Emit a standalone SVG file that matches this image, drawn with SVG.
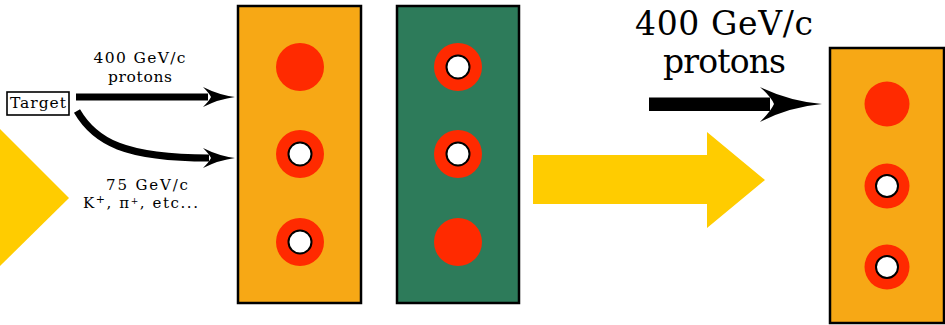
<svg xmlns="http://www.w3.org/2000/svg" width="945" height="325" viewBox="0 0 945 325">
<style>
text{font-family:"DejaVu Serif","Liberation Serif",serif;fill:#000}
.panel{stroke:#000;stroke-width:2.5}
.orange{fill:#F7A815}
.green{fill:#2D7B5A}
.red{fill:#FF2A00}
.hole{fill:#fff;stroke:#000;stroke-width:2}
.yellow{fill:#FFCC00}
</style>
<defs>
<g id="ring"><circle r="24" class="red"/><circle r="11.5" class="hole"/></g>
<g id="dot"><circle r="24" class="red"/></g>
<g id="ringS"><circle r="22.5" class="red"/><circle r="11" class="hole"/></g>
<g id="dotS"><circle r="22.5" class="red"/></g>
</defs>
<rect width="945" height="325" fill="#fff"/>

<g id="left-triangle"><polygon class="yellow" points="-2,127 69,198 -2,268"/></g>

<g id="target">
<rect x="7" y="92" width="62" height="23" fill="#fff" stroke="#000" stroke-width="1.6"/>
<text x="38" y="108" font-size="15.5" text-anchor="middle" textLength="56">Target</text>
</g>

<g id="labels-left">
<text x="139.5" y="63" font-size="15.5" text-anchor="middle" textLength="92">400 GeV/c</text>
<text x="140" y="82" font-size="15.5" text-anchor="middle" textLength="64">protons</text>
<text x="147" y="190" font-size="15" text-anchor="middle" textLength="82">75 GeV/c</text>
<text x="83" y="208" font-size="15" textLength="115">K<tspan font-size="11" dy="-5">+</tspan><tspan dy="5">, π</tspan><tspan font-size="9" dy="-4">+</tspan><tspan dy="4">, etc...</tspan></text>
</g>

<g id="connectors">
<path d="M76,93.5 L208,93.5 L208,100.5 L76,100.5 Z" fill="#000"/>
<path d="M203,87 Q 219,95 235,97 Q 219,99 203,107 Q 209,101 211,97 Q 209,93 203,87 Z" fill="#000"/>
<path d="M77,111 C 95,142 125,158 209,158" fill="none" stroke="#000" stroke-width="7"/>
<path d="M203,148 Q 219,156 235,158 Q 219,160 203,168 Q 209,162 211,158 Q 209,154 203,148 Z" fill="#000"/>
</g>

<g id="panel1">
<rect x="238" y="6" width="123" height="297" class="panel orange"/>
<use href="#dot" x="300" y="67"/>
<use href="#ring" x="300" y="154"/>
<use href="#ring" x="300" y="242"/>
</g>

<g id="panel2">
<rect x="397" y="6" width="122" height="297" class="panel green"/>
<use href="#ring" x="458" y="67"/>
<use href="#ring" x="458" y="154"/>
<use href="#dot" x="458" y="242"/>
</g>

<g id="big-arrow"><polygon class="yellow" points="533,155 707,155 707,132 765,180 707,228 707,204 533,204"/></g>

<g id="labels-right">
<text x="724" y="35" font-size="33" text-anchor="middle" textLength="178">400 GeV/c</text>
<text x="724.5" y="73" font-size="33" text-anchor="middle" textLength="123">protons</text>
</g>

<g id="black-arrow">
<path d="M649,97.5 L770,97.5 L770,111 L649,111 Z" fill="#000"/>
<path d="M760,87 Q 789,101 822,104 Q 789,107 760,122 Q 771,111 774,104 Q 771,97 760,87 Z" fill="#000"/>
</g>

<g id="panel3">
<rect x="830" y="48" width="114" height="275" class="panel orange"/>
<use href="#dotS" x="887" y="104"/>
<use href="#ringS" x="887" y="186"/>
<use href="#ringS" x="887" y="267"/>
</g>
</svg>
